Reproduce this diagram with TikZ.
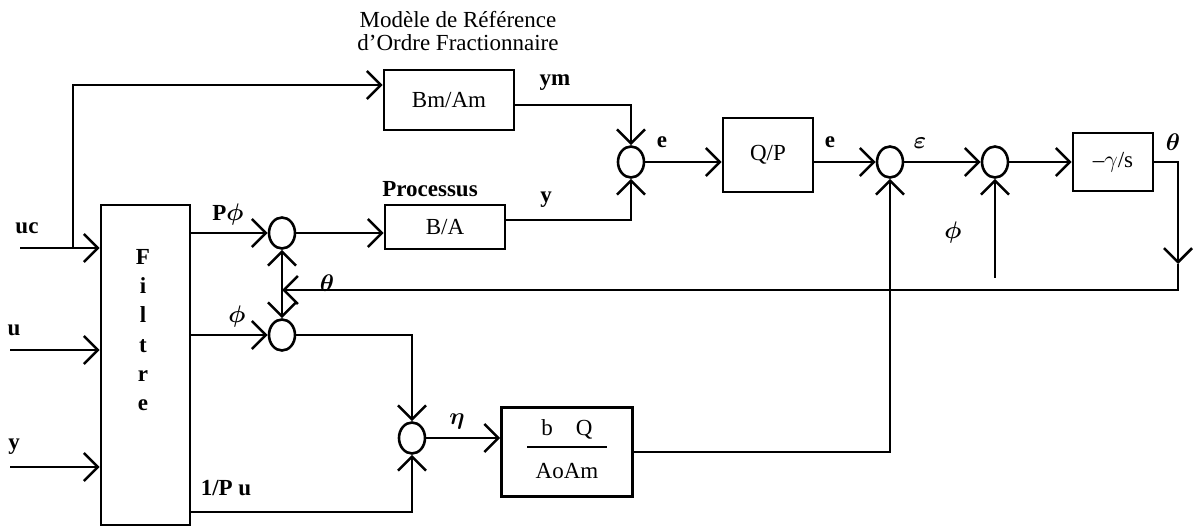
\documentclass[tikz,border=0pt]{standalone}
\usepackage{fontspec}
\setmainfont{Liberation Serif}
\usetikzlibrary{shapes.geometric,arrows.meta,positioning}

\begin{document}
\begin{tikzpicture}[
    x=0.5pt, y=-0.5pt,
    font=\fontsize{11.5}{11.5}\selectfont,
    mybox/.style={draw, line width=1.3pt, inner sep=0pt},
    mysum/.style={draw, ellipse, line width=1.3pt, minimum width=13pt, minimum height=15.5pt, inner sep=0pt},
    myedge/.style={-{Straight Barb[length=7pt, width=14pt, line width=1.3pt]}, line width=1.3pt},
    mylabel/.style={inner sep=0pt, font=\fontsize{11.5}{11.5}\selectfont\bfseries\boldmath}
]
\useasboundingbox (0,0) rectangle (1201,529);

% blocs
\node[align=center] (titre) at (458,31) {Modèle de Référence\\d'Ordre Fractionnaire};
\node[mybox, minimum width=65pt, minimum height=30pt] (refm) at (449,100) {Bm/Am};
\node[mybox, minimum width=60pt, minimum height=22pt] (proc) at (445,227) {B/A};
\node[mybox, minimum width=45pt, minimum height=37pt] (qp) at (768,155) {Q/P};
\node[mybox, minimum width=40pt, minimum height=29pt] (integ) at (1113,162) {--$\gamma$/s};
\node[mybox, minimum width=65.5pt, minimum height=44.5pt] (gain) at (567,452)
    {\setlength{\arrayrulewidth}{1pt}\begin{tabular}{@{}c@{}}\makebox[40pt]{b\quad Q}\\[2pt]\hline\rule{0pt}{15pt}AoAm\end{tabular}};
\node[mybox, minimum width=44.5pt, minimum height=160pt] (filtre) at (145.5,365) {};
\node[align=center, font=\fontsize{11.5}{14.6}\selectfont\bfseries] (filtxt) at (143,330) {F\\i\\l\\t\\r\\e};

% sommateurs
\node[mysum] (s0) at (631,162) {};
\node[mysum] (s1) at (282,233) {};
\node[mysum] (s4) at (282,335) {};
\node[mysum] (s5) at (412,438) {};
\node[mysum] (s2) at (890,162) {};
\node[mysum] (s3) at (995,162) {};

\coordinate (ucin) at (20,248);
\coordinate (ucbr) at (73,248);
\coordinate (uin) at (10,350);
\coordinate (yin) at (10,467);
\coordinate (tdown) at (1178,264);
\coordinate (tj) at (282,290);
\coordinate (phin) at (995,278);

% liaisons
\draw[myedge] (ucin) -- (filtre.west |- ucin);
\draw[myedge] (ucbr) |- (refm.west |- 0,85);
\draw[myedge] (uin) -- (filtre.west |- uin);
\draw[myedge] (yin) -- (filtre.west |- yin);
\draw[myedge] (refm.east |- 0,105) -| (s0);
\draw[myedge] (proc.east |- 0,220) -| (s0);
\draw[myedge] (filtre.east |- s1) -- (s1);
\draw[myedge] (s1) -- (proc.west |- s1);
\draw[myedge] (s0) -- (qp.west |- s0);
\draw[myedge] (qp.east |- s2) -- (s2);
\draw[myedge] (s2) -- (s3);
\draw[myedge] (s3) -- (integ.west |- s3);
\draw[myedge] (integ.east) -| (tdown);
\draw[myedge] (tdown) |- (tj);
\draw[myedge] (tj) -- (s1);
\draw[myedge] (tj) -- (s4);
\draw[myedge] (filtre.east |- s4) -- (s4);
\draw[myedge] (s4) -| (s5);
\draw[myedge] (filtre.east |- 0,512) -| (s5);
\draw[myedge] (s5) -- (gain.west |- s5);
\draw[myedge] (gain.east) -| (s2);
\draw[myedge] (phin) -- (s3);

% etiquettes
\node[mylabel] at (27,228) {uc};
\node[mylabel] at (14,330) {u};
\node[mylabel] at (14,447) {y};
\node[mylabel] at (228,215) {P$\phi$};
\node[mylabel] at (237,317) {$\phi$};
\node[mylabel] at (226,488) {1/P u};
\node[mylabel] at (327,283) {$\theta$};
\node[mylabel] at (457,422) {$\eta$};
\node[mylabel] at (555,83) {ym};
\node[mylabel] at (546,200) {y};
\node[mylabel] at (430,189) {Processus};
\node[mylabel] at (662,142) {e};
\node[mylabel] at (830,142) {e};
\node[mylabel] at (920,143) {$\varepsilon$};
\node[mylabel] at (953,233) {$\phi$};
\node[mylabel] at (1173,142) {$\theta$};
\end{tikzpicture}
\end{document}
